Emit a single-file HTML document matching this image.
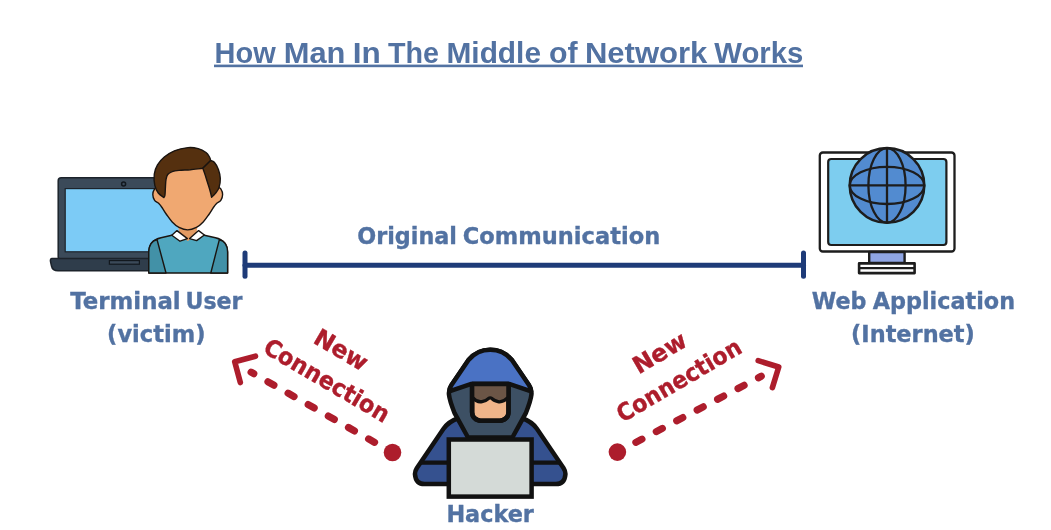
<!DOCTYPE html>
<html lang="en">
<head>
<meta charset="utf-8">
<title>How Man In The Middle of Network Works</title>
<style>
html,body{margin:0;padding:0;background:#fff;}
body{width:1051px;height:530px;overflow:hidden;}
svg{display:block;filter:blur(0.55px);}
.t{font-family:"Liberation Sans",sans-serif;font-weight:bold;fill:#5272a2;}
.l{font-family:"DejaVu Sans","Liberation Sans",sans-serif;font-weight:bold;font-size:23.5px;fill:#5272a2;stroke:#5272a2;stroke-width:0.35px;}
.r{font-family:"DejaVu Sans","Liberation Sans",sans-serif;font-weight:bold;font-size:23.8px;fill:#ad1d2c;stroke:#ad1d2c;stroke-width:0.4px;}
</style>
</head>
<body>
<svg width="1051" height="530" viewBox="0 0 1051 530">
<rect width="1051" height="530" fill="#ffffff"/>

<!-- TITLE -->
<g id="title">
<text class="t" y="62.5" font-size="29"><tspan x="214.6" textLength="61.1" lengthAdjust="spacingAndGlyphs">How</tspan> <tspan x="283.7" textLength="61.7" lengthAdjust="spacingAndGlyphs">Man</tspan> <tspan x="352.7" textLength="28.0" lengthAdjust="spacingAndGlyphs">In</tspan> <tspan x="387.9" textLength="51.0" lengthAdjust="spacingAndGlyphs">The</tspan> <tspan x="446.5" textLength="94.5" lengthAdjust="spacingAndGlyphs">Middle</tspan> <tspan x="548.9" textLength="28.6" lengthAdjust="spacingAndGlyphs">of</tspan> <tspan x="584.9" textLength="122.5" lengthAdjust="spacingAndGlyphs">Network</tspan> <tspan x="714.3" textLength="89.0" lengthAdjust="spacingAndGlyphs">Works</tspan></text>
<rect x="214" y="64.6" width="589" height="2.6" fill="#5272a2"/>
</g>

<!-- LAPTOP (victim) -->
<g id="laptop">
<rect x="58.2" y="177.8" width="131" height="82" rx="3" fill="#3b4a59" stroke="#1c232b" stroke-width="1.5"/>
<rect x="65.2" y="188.6" width="117" height="63.2" fill="#7ccbf6" stroke="#1c232b" stroke-width="1.2"/>
<circle cx="123.6" cy="184" r="2" fill="#3b4a59" stroke="#12181e" stroke-width="1.5"/>
<path d="M52 258.5 H196 Q198 258.5 197.5 261.5 L196.5 266 Q195.5 270.8 190 270.8 H58 Q52.5 270.8 51.5 266 L50.5 261.5 Q50 258.5 52 258.5 Z" fill="#2f3d4b" stroke="#1c232b" stroke-width="1.5"/>
<rect x="109.4" y="260.6" width="30" height="3.6" fill="#3b4a59" stroke="#12181e" stroke-width="1.2"/>
</g>

<!-- PERSON -->
<g id="person" stroke="#1a1410" stroke-width="1.4" stroke-linejoin="round">
<path d="M148.8 273 V252 Q149 240.5 161 237.8 L175 234.5 H201 L215.5 237.8 Q227.3 240.5 227.6 252 V273 Z" fill="#4fa7bf"/>
<path d="M148.8 273 V252 Q149 241.5 157 239.5 L166 273 Z" fill="#4291a7"/>
<path d="M227.6 273 V252 Q227.3 241.5 219.3 239.8 L210.8 273 Z" fill="#4291a7"/>
<path d="M178 226 H197.5 L196 236 L187.8 241 L180 236 Z" fill="#e39a62" stroke="none"/>
<path d="M177 230.6 L171.8 235.2 L180 241.2 L187.4 238.6 Z" fill="#ffffff"/>
<path d="M198.6 230.6 L204.4 235 L196.6 240.6 L189.6 238.6 Z" fill="#ffffff"/>
<path d="M158 186 C156.9 188.3 155.5 187.4 154.6 188.8 C153.7 190.2 152.8 192.6 152.8 194.5 C152.8 196.4 153.6 198.8 154.6 200.3 C155.6 201.8 157.4 202.1 158.6 203.3 C159.8 204.5 160.7 205.6 162 207.5 C163.3 209.4 164.8 212.1 166.5 214.5 C168.2 216.9 170.1 219.8 172.2 221.9 C174.3 224.1 176.4 226.1 179 227.4 C181.6 228.7 184.8 229.9 187.7 229.9 C190.6 229.9 193.8 228.7 196.4 227.4 C199 226.1 201.1 224.1 203.2 221.9 C205.3 219.8 207.2 216.9 208.9 214.5 C210.6 212.1 212.1 209.4 213.4 207.5 C214.7 205.6 215.6 204.5 216.8 203.3 C218 202.1 219.8 201.8 220.8 200.3 C221.8 198.8 222.6 196.4 222.6 194.5 C222.6 192.6 221.7 190.2 220.8 188.8 C219.9 187.4 218.5 188.3 217.4 186 C216.3 183.7 216.1 178.3 214 175 C211.9 171.7 212.3 167.5 205 166 C197.7 164.5 177.3 164.5 170 166 C162.7 167.5 163.4 171.7 161.4 175 C159.4 178.3 159.1 183.7 158 186 Z" fill="#f0a871"/>
<path d="M163.8 197.6 C162.9 196.8 159.8 195.1 158.3 193 C156.8 190.9 155.5 188.5 154.8 185.3 C154.1 182.1 153.9 177.4 154.3 174 C154.8 170.6 155.8 167.7 157.5 164.9 C159.2 162.1 161.5 159.3 164.3 157 C167.1 154.7 170.5 152.4 174.4 150.8 C178.3 149.2 184 148 188 147.6 C192 147.2 195.2 147.8 198.2 148.6 C201.2 149.4 204.1 151.1 206 152.5 C207.9 153.9 208.7 155.7 209.5 157 C210.3 158.3 210.5 160 210.7 160.6 L202.8 168.3 C200.7 168.5 194.3 169.3 190.3 169.7 C186.3 170 182 170.1 179 170.4 C176 170.7 174.1 170.9 172.2 171.6 C170.3 172.3 168.7 173.2 167.7 174.5 C166.7 175.8 166.4 177.4 166 179.6 C165.6 181.8 165.6 184.9 165.4 187.6 C165.2 190.2 165.2 193.8 164.9 195.5 C164.6 197.2 164 197.2 163.8 197.6 Z" fill="#55300f"/>
<path d="M210.7 160.6 C211.3 160.9 213 160.8 214.3 162.3 C215.6 163.8 217.4 166.7 218.4 169.4 C219.4 172.1 220.2 175.5 220.3 178.5 C220.4 181.5 219.8 185.1 219 187.6 C218.2 190.1 216.6 191.8 215.4 193.4 C214.2 195 212.2 196.6 211.6 197.2 C211.4 196.3 210.9 194 210.4 192 C209.9 190 209.3 188.1 208.4 185.3 C207.5 182.5 206.1 177.9 205.2 175.1 C204.3 172.3 203.2 169.4 202.8 168.3 Z" fill="#55300f"/>
</g>

<!-- MONITOR -->
<g id="monitor" stroke="#1d1d1d" stroke-linejoin="round">
<rect x="819.8" y="152.5" width="134.7" height="99" rx="3" fill="#ffffff" stroke-width="2.3"/>
<rect x="828.2" y="159" width="118.2" height="86" rx="3" fill="#7dcdef" stroke-width="2.2"/>
<rect x="869.2" y="252" width="35.4" height="11" fill="#8fa5e3" stroke-width="2.4"/>
<rect x="859.1" y="263.4" width="55.5" height="9.7" fill="#ffffff" stroke-width="2.6"/>
<line x1="859.1" y1="268.2" x2="914.6" y2="268.2" stroke-width="2.3"/>
<circle cx="887" cy="185.4" r="37.3" fill="#528bd0" stroke-width="2.5"/>
<ellipse cx="887" cy="185.4" rx="18.6" ry="37.3" fill="none" stroke-width="2.3"/>
<ellipse cx="887" cy="185.4" rx="37.3" ry="18.6" fill="none" stroke-width="2.3"/>
<line x1="887" y1="148" x2="887" y2="222.8" stroke-width="2.3"/>
<line x1="849.6" y1="185.4" x2="924.4" y2="185.4" stroke-width="2.3"/>
</g>

<!-- ORIGINAL COMMUNICATION LINE -->
<g id="line" stroke="#1e3b78" stroke-width="5" stroke-linecap="round" fill="none">
<line x1="245" y1="265.2" x2="803.5" y2="265.2"/>
<line x1="245" y1="252.9" x2="245" y2="276.3"/>
<line x1="803.5" y1="252.9" x2="803.5" y2="276.3"/>
</g>

<!-- LABELS -->
<g id="labels">
<text class="l" y="244.3"><tspan x="357.2" textLength="99.8" lengthAdjust="spacingAndGlyphs">Original</tspan> <tspan x="462.8" textLength="197.4" lengthAdjust="spacingAndGlyphs">Communication</tspan></text>
<text class="l" y="308.5"><tspan x="70.3" textLength="110.3" lengthAdjust="spacingAndGlyphs">Terminal</tspan> <tspan x="185.5" textLength="57.0" lengthAdjust="spacingAndGlyphs">User</tspan></text>
<text class="l" y="341.6"><tspan x="107.1" textLength="98.4" lengthAdjust="spacingAndGlyphs">(victim)</tspan></text>
<text class="l" y="308.5"><tspan x="811.8" textLength="54.7" lengthAdjust="spacingAndGlyphs">Web</tspan> <tspan x="872.7" textLength="142.4" lengthAdjust="spacingAndGlyphs">Application</tspan></text>
<text class="l" y="341.6"><tspan x="851.1" textLength="123.7" lengthAdjust="spacingAndGlyphs">(Internet)</tspan></text>
<text class="l" y="521.5"><tspan x="446.4" textLength="87.5" lengthAdjust="spacingAndGlyphs">Hacker</tspan></text>
</g>

<!-- LEFT ARROW -->
<g id="arrowL" stroke="#ad1d2c" fill="none" stroke-linecap="round" stroke-linejoin="round">
<circle cx="392.5" cy="452.5" r="8.8" fill="#ad1d2c" stroke="none"/>
<path transform="translate(392.5 452.5) rotate(209.6)" d="M20.66 0 H162.6" stroke-width="7.2" stroke-dasharray="6.8 16.35"/>
<path transform="translate(392.5 452.5) rotate(209.9)" d="M166.8 -15.2 L182 0 L166.8 15.2" stroke-width="5.6"/>
</g>
<g transform="translate(261.75 351.66) rotate(30.4)">
<text class="r" x="67.6" y="-33.6" text-anchor="middle">New</text>
<text class="r" x="0" y="0" textLength="141.3" lengthAdjust="spacingAndGlyphs">Connection</text>
</g>

<!-- RIGHT ARROW -->
<g id="arrowR" stroke="#ad1d2c" fill="none" stroke-linecap="round" stroke-linejoin="round">
<circle cx="617.4" cy="452.1" r="8.8" fill="#ad1d2c" stroke="none"/>
<path transform="translate(617.4 452.1) rotate(-27.8)" d="M20.9 0 H162.6" stroke-width="7.2" stroke-dasharray="6.8 16.3"/>
<path transform="translate(617.4 452.1) rotate(-27.8)" d="M167.2 -15.2 L182.4 0 L167.2 15.2" stroke-width="5.6"/>
</g>
<g transform="translate(622.4 422.97) rotate(-30.4)">
<text class="r" x="67.6" y="-33.6" text-anchor="middle">New</text>
<text class="r" x="0" y="0" textLength="140.5" lengthAdjust="spacingAndGlyphs">Connection</text>
</g>

<!-- HACKER -->
<g id="hacker" stroke="#111111" stroke-width="4.5" stroke-linejoin="round" stroke-linecap="round">
<path d="M459 418 Q448.5 421.5 443.5 428.8 L416.9 468 Q414.7 471.5 415 474.5 Q415.8 484.1 424.5 484.1 H555.9 Q564.6 484.1 565.4 474.5 Q565.7 471.5 563.5 468 L536.9 428.8 Q531.9 421.5 521.4 418 Z" fill="#35518f"/>
<path d="M421.5 462.7 H558.9" fill="none" stroke-width="4.2"/>
<path d="M490.2 349.8 C482.5 349.8 474.5 353 468.5 360 L451.5 385 Q448.4 389.6 449 394.8 Q449.6 400.5 454.6 413.2 L468 437.5 H512.4 L525.8 413.2 Q530.8 400.5 531.4 394.8 Q532.0 389.6 528.9 385 L511.9 360 C505.9 353 497.9 349.8 490.2 349.8 Z" fill="#3d5064"/>
<path d="M490.2 349.8 C482.5 349.8 474.5 353 468.5 360 L451.5 385 Q449.4 388 449.2 391.3 L470.6 384.1 H509.8 L531.2 391.3 Q531.0 388 528.9 385 L511.9 360 C505.9 353 497.9 349.8 490.2 349.8 Z" fill="#4a72c4"/>
<path d="M472.1 384.1 H508.5 V412.2 A8.5 8.5 0 0 1 500 420.7 H480.6 A8.5 8.5 0 0 1 472.1 412.2 Z" fill="#f0b58a"/>
<path d="M472.1 384.1 H508.5 V398 L507.5 397.9 Q503 402.6 498 401.6 Q493.5 400.6 492 398.6 Q490.2 397.1 488.4 398.6 Q486.5 400.6 482 401.6 Q477 402.6 472.9 397.9 Z" fill="#6b5546" stroke="none"/>
<path d="M472.9 397.9 Q477 402.6 482 401.6 Q486.5 400.6 488.4 398.6 Q490.2 397.1 492 398.6 Q493.5 400.6 498 401.6 Q503 402.6 507.5 397.9" fill="none" stroke-width="3.3"/>
<path d="M472.1 384.1 H508.5 V412.2 A8.5 8.5 0 0 1 500 420.7 H480.6 A8.5 8.5 0 0 1 472.1 412.2 Z" fill="none"/>
<rect x="448.8" y="439.5" width="82.8" height="57.1" fill="#d4dad7" stroke-width="4.5" stroke-linejoin="miter"/>
</g>
</svg>
</body>
</html>
